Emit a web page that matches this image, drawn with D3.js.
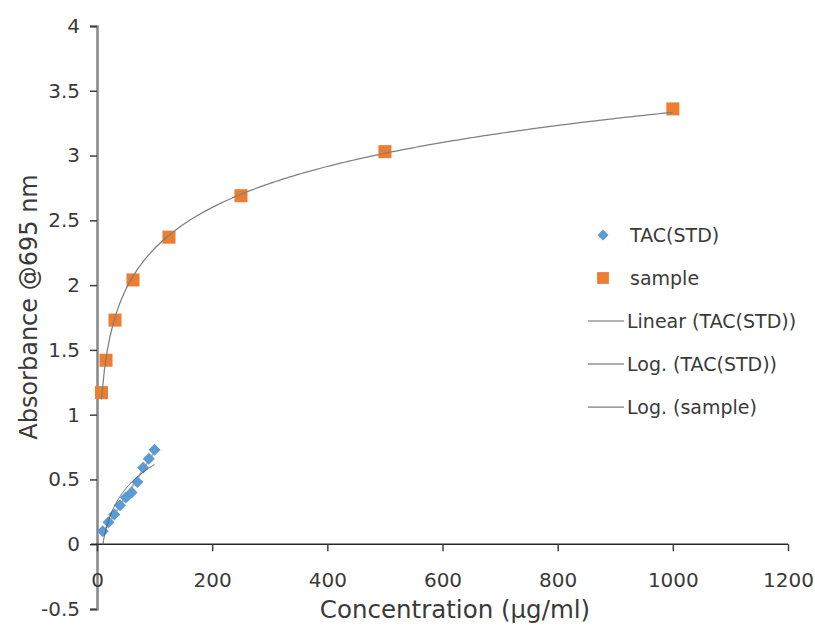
<!DOCTYPE html>
<html>
<head>
<meta charset="utf-8">
<script src="https://cdn.jsdelivr.net/npm/d3@7"></script>
<style>
  body { margin: 0; background: #fff; }
  svg text { font-family: "DejaVu Sans", sans-serif; fill: #3a3a3a; }
</style>
</head>
<body>
<svg id="chart" width="815" height="626"></svg>
<script>
// TAC(STD) standard curve
const stdConc = [10, 20, 30, 40, 50, 60, 70, 80, 90, 100];
const stdAbs = [0.10, 0.17, 0.23, 0.30, 0.36, 0.40, 0.48, 0.59, 0.66, 0.73];

// sample dilution series
const sampleConc = [7.8125, 15.625, 31.25, 62.5, 125, 250, 500, 1000];
const sampleAbs = [1.17, 1.42, 1.73, 2.04, 2.37, 2.69, 3.03, 3.36];

const xTicks = [0, 200, 400, 600, 800, 1000, 1200];
const yTicks = [-0.5, 0, 0.5, 1, 1.5, 2, 2.5, 3, 3.5, 4];

const legendItems = [
  { label: "TAC(STD)", type: "diamond" },
  { label: "sample", type: "square" },
  { label: "Linear (TAC(STD))", type: "line", color: "#b3b3b3", w: 2 },
  { label: "Log. (TAC(STD))", type: "line", color: "#595959", w: 1 },
  { label: "Log. (sample)", type: "line", color: "#7f7f7f", w: 1.25 }
];

const blue = "#5b9bd5", orange = "#ed7d31";

const svg = d3.select("#chart");
const mLeft = 97, mRight = 788, mTop = 26, mBottom = 609;

const x = d3.scaleLinear().domain([0, 1200]).range([mLeft, mRight]);
const y = d3.scaleLinear().domain([-0.5, 4]).range([mBottom, mTop]);

// least squares fits for the trendlines
function linFit(xs, ys) {
  let n = xs.length, mx = d3.mean(xs), my = d3.mean(ys);
  let sxy = 0, sxx = 0;
  for (let i = 0; i < n; i++) {
    sxy += (xs[i] - mx) * (ys[i] - my);
    sxx += (xs[i] - mx) * (xs[i] - mx);
  }
  let a = sxy / sxx;
  return { a: a, b: my - a * mx };
}
function logFit(xs, ys) {
  return linFit(xs.map(Math.log), ys);
}

const plain = d => String(d);

// y axis
const yAxis = svg.append("g")
  .attr("transform", "translate(" + mLeft + ",0)")
  .call(d3.axisLeft(y).tickValues(yTicks).tickSize(7).tickPadding(10).tickFormat(plain));
yAxis.select(".domain").attr("stroke", "#868686").attr("stroke-width", 2.5);
yAxis.selectAll(".tick line").attr("stroke", "#404040").attr("stroke-width", 1.5);
yAxis.selectAll("text").style("font-size", "20px").attr("fill", "#3a3a3a");

// x axis at y = 0
const xAxis = svg.append("g")
  .attr("transform", "translate(0," + y(0) + ")")
  .call(d3.axisBottom(x).tickValues(xTicks).tickSize(7).tickPadding(22).tickSizeOuter(0).tickFormat(plain));
xAxis.select(".domain").attr("stroke", "#262626").attr("stroke-width", 1.5)
  .attr("d", "M" + (mLeft - 6) + ",0H" + mRight);
xAxis.selectAll(".tick line").attr("stroke", "#404040").attr("stroke-width", 1.5);
xAxis.selectAll("text").style("font-size", "20px").attr("fill", "#3a3a3a");

// titles
svg.append("text")
  .attr("x", 455).attr("y", 618)
  .attr("text-anchor", "middle")
  .style("font-size", "24.5px")
  .text("Concentration (µg/ml)");
svg.append("text")
  .attr("transform", "translate(37,307) rotate(-90)")
  .attr("text-anchor", "middle")
  .style("font-size", "24px")
  .text("Absorbance @695 nm");

// trendlines
const line = d3.line().x(d => x(d[0])).y(d => y(d[1]));
function curve(fn, x0, x1) {
  let pts = [];
  for (let i = 0; i <= 200; i++) {
    let xv = x0 + (x1 - x0) * i / 200;
    pts.push([xv, fn(xv)]);
  }
  return pts;
}

const lin = linFit(stdConc, stdAbs);
const logStd = logFit(stdConc, stdAbs);
const logSam = logFit(sampleConc, sampleAbs);

const linG = svg.append("g");
linG.append("path")
  .attr("d", line(curve(v => lin.a * v + lin.b, d3.min(stdConc), d3.max(stdConc))))
  .attr("fill", "none").attr("stroke", legendItems[2].color).attr("stroke-width", 2);

// markers
svg.append("g").selectAll("path")
  .data(stdConc.map((c, i) => [c, stdAbs[i]]))
  .join("path")
  .attr("transform", d => "translate(" + x(d[0]) + "," + y(d[1]) + ") rotate(45)")
  .attr("d", d3.symbol().type(d3.symbolSquare).size(72)())
  .attr("fill", blue);

svg.append("g").selectAll("path")
  .data(sampleConc.map((c, i) => [c, sampleAbs[i]]))
  .join("path")
  .attr("transform", d => "translate(" + x(d[0]) + "," + y(d[1]) + ")")
  .attr("d", d3.symbol().type(d3.symbolSquare).size(170)())
  .attr("fill", orange);

const logG = svg.append("g");
logG.append("path")
  .attr("d", line(curve(v => logStd.a * Math.log(v) + logStd.b, d3.min(stdConc), d3.max(stdConc))))
  .attr("fill", "none").attr("stroke", legendItems[3].color).attr("stroke-width", 1);
logG.append("path")
  .attr("d", line(curve(v => logSam.a * Math.log(v) + logSam.b, d3.min(sampleConc), d3.max(sampleConc))))
  .attr("fill", "none").attr("stroke", legendItems[4].color).attr("stroke-width", 1.25);

// legend
const legend = svg.append("g").attr("transform", "translate(588,235)");
legendItems.forEach((it, i) => {
  const g = legend.append("g").attr("transform", "translate(0," + (i * 43) + ")");
  if (it.type === "diamond") {
    g.append("path").attr("transform", "translate(15,0) rotate(45)")
      .attr("d", d3.symbol().type(d3.symbolSquare).size(60)()).attr("fill", blue);
  } else if (it.type === "square") {
    g.append("path").attr("transform", "translate(15,0)")
      .attr("d", d3.symbol().type(d3.symbolSquare).size(140)()).attr("fill", orange);
  } else {
    g.append("line").attr("x1", 0).attr("x2", 36).attr("y1", 0).attr("y2", 0)
      .attr("stroke", it.color).attr("stroke-width", it.w);
  }
  g.append("text")
    .attr("x", it.type === "line" ? 39 : 42).attr("y", 7)
    .style("font-size", "19px")
    .text(it.label);
});
</script>
</body>
</html>
